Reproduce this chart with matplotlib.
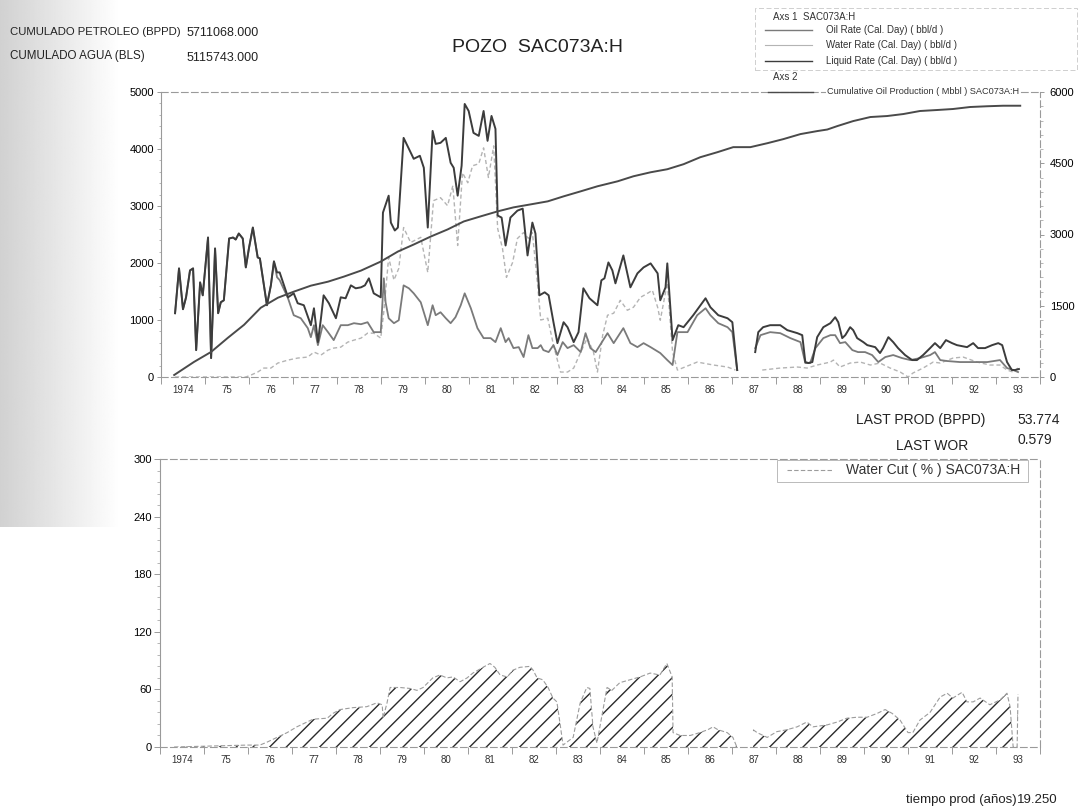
import matplotlib
matplotlib.use("Agg")
import matplotlib.pyplot as plt
import numpy as np
from matplotlib.lines import Line2D
from matplotlib.patches import Rectangle
from matplotlib.ticker import MultipleLocator, FixedLocator, NullFormatter

plt.rcParams['font.family'] = ['Liberation Sans', 'DejaVu Sans']
nan = np.nan

# --- rates (bbl/d); years as decimal ---
liq_t = [1974.32, 1974.41, 1974.50, 1974.57, 1974.66, 1974.73, 1974.80, 1974.89, 1974.95, 1975.07,
         1975.14, 1975.23, 1975.30, 1975.36, 1975.43, 1975.55, 1975.64, 1975.70, 1975.77, 1975.86,
         1975.93, 1976.00, 1976.09, 1976.20, 1976.25, 1976.41, 1976.50, 1976.57, 1976.64, 1976.70,
         1976.89, 1977.02, 1977.11, 1977.25, 1977.41, 1977.48, 1977.57, 1977.64, 1977.70, 1977.82,
         1977.98, 1978.09, 1978.20, 1978.32, 1978.43, 1978.55, 1978.64, 1978.73, 1978.84, 1979.00,
         1979.05, 1979.18, 1979.23, 1979.32, 1979.39, 1979.52, 1979.64, 1979.75, 1979.89, 1979.98,
         1980.07, 1980.18, 1980.25, 1980.36, 1980.48, 1980.59, 1980.66, 1980.75, 1980.84, 1980.91,
         1981.00, 1981.11, 1981.23, 1981.34, 1981.43, 1981.52, 1981.61, 1981.66, 1981.75, 1981.84,
         1981.95, 1982.11, 1982.23, 1982.34, 1982.45, 1982.52, 1982.61, 1982.73, 1982.82, 1982.93,
         1983.02, 1983.16, 1983.25, 1983.39, 1983.50, 1983.61, 1983.75, 1983.93, 1984.02, 1984.09,
         1984.18, 1984.27, 1984.34, 1984.52, 1984.68, 1984.84, 1984.98, 1985.14, 1985.30, 1985.36,
         1985.48, 1985.52, 1985.64, 1985.70, 1985.77, 1985.89, 1986.11, 1986.39, 1986.50, 1986.68,
         1986.89, 1987.00, 1987.11, 1987.30,
         1987.52, 1987.59, 1987.70, 1987.86, 1988.09, 1988.25, 1988.48, 1988.59, 1988.66, 1988.73,
         1988.82, 1988.93, 1989.07, 1989.23, 1989.34, 1989.41, 1989.50, 1989.57, 1989.68, 1989.75,
         1989.84, 1989.98, 1990.07, 1990.25, 1990.36, 1990.43, 1990.55, 1990.66, 1990.77, 1990.93,
         1991.09, 1991.20, 1991.34, 1991.50, 1991.61, 1991.73, 1991.86, 1992.00, 1992.11, 1992.34,
         1992.48, 1992.59, 1992.75, 1992.91, 1993.05, 1993.14, 1993.25, 1993.36, 1993.43, 1993.52]
liq_v = [1119, 1905, 1189, 1398, 1870, 1905, 472, 1660, 1433, 2447,
         332, 2255, 1119, 1311, 1346, 2430, 2447, 2412, 2517, 2430,
         1923, 2255, 2622, 2098, 2080, 1259, 1608, 2028, 1835, 1835,
         1398, 1468, 1294, 1259, 909, 1206, 612, 1031, 1433, 1294,
         1031, 1398, 1381, 1608, 1556, 1573, 1608, 1731, 1468, 1398,
         2884, 3181, 2709, 2570, 2622, 4195, 4003, 3828, 3881, 3671,
         2622, 4318, 4090, 4108, 4195, 3758, 3671, 3181, 3706, 4790,
         4667, 4283, 4230, 4667, 4143, 4580, 4353, 2832, 2797, 2307,
         2797, 2919, 2954, 2133, 2709, 2517, 1433, 1486, 1433, 961,
         594, 961, 874, 612, 787, 1556, 1381, 1259, 1696, 1731,
         2010, 1870, 1643, 2133, 1573, 1818, 1923, 1993, 1818, 1346,
         1573, 1993, 647, 769, 909, 874, 1084, 1381, 1224, 1084,
         1031, 961, 122, nan,
         437, 787, 874, 909, 909, 822, 769, 734, 262, 245,
         262, 699, 874, 944, 1049, 961, 682, 734, 874, 822,
         682, 612, 559, 524, 420, 507, 699, 612, 507, 385,
         297, 297, 385, 507, 594, 507, 647, 594, 559, 524,
         594, 507, 507, 559, 594, 559, 262, 122, 122, 140]

oil_t = [1974.32, 1974.41, 1974.50, 1974.57, 1974.66, 1974.73, 1974.80, 1974.89, 1974.95, 1975.07,
         1975.14, 1975.23, 1975.30, 1975.36, 1975.43, 1975.55, 1975.64, 1975.70, 1975.77, 1975.86,
         1975.93, 1976.00, 1976.09, 1976.20, 1976.25, 1976.41, 1976.50, 1976.57, 1976.64, 1976.70,
         1976.89, 1977.02, 1977.18, 1977.34, 1977.41, 1977.48, 1977.57, 1977.68, 1977.80, 1977.93,
         1978.09, 1978.25, 1978.39, 1978.55, 1978.70, 1978.84, 1979.00, 1979.07, 1979.11, 1979.18,
         1979.30, 1979.41, 1979.52, 1979.64, 1979.75, 1979.91, 1980.07, 1980.18, 1980.25, 1980.36,
         1980.48, 1980.59, 1980.70, 1980.82, 1980.91, 1981.05, 1981.20, 1981.34, 1981.50, 1981.61,
         1981.73, 1981.84, 1981.91, 1982.02, 1982.14, 1982.25, 1982.36, 1982.45, 1982.57, 1982.64,
         1982.70, 1982.82, 1982.93, 1983.02, 1983.14, 1983.25, 1983.39, 1983.55, 1983.66, 1983.77,
         1983.89, 1984.16, 1984.30, 1984.52, 1984.68, 1984.84, 1984.98, 1985.14, 1985.36, 1985.52,
         1985.64, 1985.75, 1985.98, 1986.20, 1986.39, 1986.50, 1986.68, 1986.89, 1987.00, 1987.11,
         1987.30,
         1987.52, 1987.64, 1987.86, 1988.09, 1988.32, 1988.55, 1988.66, 1988.77, 1988.89, 1989.07,
         1989.23, 1989.34, 1989.45, 1989.57, 1989.73, 1989.86, 1990.02, 1990.18, 1990.32, 1990.48,
         1990.66, 1990.86, 1991.05, 1991.27, 1991.50, 1991.61, 1991.73, 1991.89, 1992.18, 1992.48,
         1992.80, 1993.09, 1993.25, 1993.39, 1993.50]
oil_v = [1119, 1905, 1189, 1398, 1870, 1905, 472, 1660, 1433, 2447,
         332, 2255, 1119, 1311, 1346, 2430, 2447, 2412, 2517, 2430,
         1923, 2255, 2622, 2098, 2080, 1259, 1608, 2028, 1750, 1700,
         1381, 1084, 1031, 857, 699, 909, 559, 909, 787, 647,
         909, 909, 944, 926, 961, 787, 787, 1731, 1311, 1031,
         944, 996, 1608, 1556, 1468, 1311, 909, 1259, 1084, 1136,
         1031, 944, 1049, 1259, 1468, 1206, 857, 682, 682, 612,
         857, 612, 682, 507, 524, 350, 734, 507, 507, 559,
         472, 437, 559, 385, 612, 507, 559, 437, 769, 507,
         437, 769, 594, 857, 594, 524, 594, 524, 420, 297,
         210, 787, 787, 1084, 1206, 1084, 944, 874, 787, 122,
         nan,
         507, 734, 787, 769, 682, 612, 245, 245, 507, 682,
         734, 734, 594, 612, 472, 437, 437, 385, 262, 350,
         385, 332, 297, 332, 385, 437, 297, 280, 262, 262,
         262, 297, 157, 122, 87]

wat_t = [1974.32, 1975.93, 1976.05, 1976.20, 1976.34, 1976.50, 1976.66, 1976.89, 1977.11, 1977.34,
         1977.48, 1977.64, 1977.80, 1977.93, 1978.09, 1978.25, 1978.39, 1978.55, 1978.70, 1978.84,
         1979.00, 1979.07, 1979.18, 1979.30, 1979.41, 1979.52, 1979.68, 1979.91, 1980.07, 1980.20,
         1980.36, 1980.52, 1980.64, 1980.75, 1980.86, 1980.98, 1981.09, 1981.23, 1981.34, 1981.45,
         1981.57, 1981.66, 1981.77, 1981.86, 1982.00, 1982.11, 1982.25, 1982.36, 1982.45, 1982.57,
         1982.64, 1982.80, 1982.93, 1983.09, 1983.25, 1983.39, 1983.55, 1983.70, 1983.84, 1983.93,
         1984.05, 1984.16, 1984.30, 1984.45, 1984.61, 1984.75, 1984.91, 1985.07, 1985.18, 1985.30,
         1985.36, 1985.52, 1985.64, 1985.75, 1986.20, 1986.57, 1986.89, 1987.07, 1987.30,
         1987.68, 1988.09, 1988.48, 1988.70, 1988.93, 1989.23, 1989.30, 1989.45, 1989.68, 1989.91,
         1990.14, 1990.36, 1990.59, 1990.82, 1991.00, 1991.11, 1991.34, 1991.57, 1991.73, 1992.02,
         1992.25, 1992.57, 1992.86, 1993.09, 1993.25, 1993.39, 1993.50]
wat_v = [0, 0, 35, 87, 157, 157, 245, 297, 332, 350,
         437, 385, 472, 507, 524, 612, 647, 682, 769, 769,
         682, 1150, 2100, 1700, 1905, 2622, 2360, 2450, 1835, 3094,
         3146, 3006, 3356, 2307, 3583, 3408, 3706, 3741, 4020, 3500,
         4055, 2604, 2255, 1748, 2010, 2430, 2535, 2430, 2535, 1608,
         1000, 1031, 559, 87, 87, 157, 437, 682, 437, 87,
         734, 1084, 1119, 1346, 1171, 1224, 1398, 1468, 1521, 1224,
         996, 1650, 437, 122, 262, 210, 175, 122, nan,
         122, 157, 175, 157, 210, 262, 297, 175, 245, 262,
         210, 245, 157, 87, 0, 70, 157, 262, 245, 332,
         350, 262, 210, 210, 122, 87, 157]

# --- cumulative oil (Mbbl), right axis ---
cum_t = [1974.30, 1974.75, 1975.14, 1975.52, 1975.89, 1976.27, 1976.66, 1977.02, 1977.41, 1977.80,
         1978.16, 1978.55, 1979.00, 1979.39, 1979.75, 1980.14, 1980.52, 1980.89, 1981.27, 1981.66,
         1982.02, 1982.41, 1982.80, 1983.16, 1983.55, 1983.93, 1984.39, 1984.75, 1985.14, 1985.52,
         1985.89, 1986.27, 1986.66, 1987.02, 1987.41, 1987.80, 1988.16, 1988.55, 1988.93, 1989.16,
         1989.39, 1989.75, 1990.14, 1990.52, 1990.89, 1991.27, 1991.66, 1992.02, 1992.41, 1992.80,
         1993.16, 1993.55]
cum_v = [42, 317, 528, 824, 1099, 1458, 1669, 1796, 1923, 2007,
         2113, 2240, 2430, 2641, 2789, 2958, 3106, 3275, 3381, 3487,
         3571, 3634, 3698, 3803, 3909, 4015, 4120, 4226, 4310, 4374,
         4480, 4627, 4733, 4839, 4839, 4923, 5008, 5114, 5177, 5210,
         5283, 5388, 5473, 5494, 5536, 5600, 5621, 5642, 5684, 5700,
         5711, 5711]

# --- water cut (%) ---
wc_t = [1974.32, 1975.98, 1976.27, 1976.43, 1976.66, 1976.89, 1977.11, 1977.34, 1977.48, 1977.80,
        1977.93, 1978.09, 1978.39, 1978.70, 1978.93, 1979.05, 1979.07, 1979.16, 1979.23, 1979.45,
        1979.68, 1979.84, 1979.98, 1980.20, 1980.36, 1980.52, 1980.66, 1980.82, 1980.98, 1981.11,
        1981.34, 1981.50, 1981.61, 1981.73, 1981.89, 1982.02, 1982.18, 1982.41, 1982.48, 1982.57,
        1982.70, 1982.82, 1982.93, 1983.02, 1983.09, 1983.16, 1983.39, 1983.55, 1983.70, 1983.77,
        1983.84, 1983.93, 1984.16, 1984.27, 1984.45, 1984.68, 1984.91, 1985.14, 1985.36, 1985.52,
        1985.64, 1985.66, 1985.82, 1986.05, 1986.27, 1986.45, 1986.57, 1986.68, 1986.89, 1987.02,
        1987.11, 1987.30,
        1987.48, 1987.57, 1987.80, 1988.02, 1988.25, 1988.48, 1988.70, 1988.84, 1989.16, 1989.39,
        1989.61, 1989.84, 1990.07, 1990.30, 1990.48, 1990.64, 1990.82, 1991.00, 1991.11, 1991.27,
        1991.50, 1991.73, 1991.89, 1992.02, 1992.23, 1992.34, 1992.48, 1992.64, 1992.86, 1993.09,
        1993.25, 1993.32, 1993.39, 1993.48, 1993.50]
wc_v = [0, 2, 2, 5, 10, 15, 21, 26, 29, 30,
        35, 39, 41, 42, 46, 44, 30, 46, 62, 62,
        61, 59, 62, 72, 75, 72, 73, 68, 72, 77,
        83, 87, 83, 75, 73, 80, 83, 84, 80, 72,
        70, 62, 51, 47, 25, 2, 10, 46, 62, 61,
        21, 4, 62, 59, 67, 70, 73, 77, 75, 87,
        73, 15, 12, 12, 15, 18, 21, 18, 15, 10,
        0, nan,
        18, 15, 10, 16, 18, 21, 26, 21, 23, 26,
        30, 31, 31, 35, 39, 35, 28, 15, 15, 28,
        36, 52, 56, 51, 57, 47, 47, 51, 44, 49,
        56, 42, 0, 0, 55]

year_labels = ['1974'] + ['%02d' % (y % 100) for y in range(1975, 1994)]

W, H = 1082, 809
fig = plt.figure(figsize=(W / 100, H / 100), dpi=100)


def fx(x):
    return x / W


def fy(y):
    return 1 - y / H


# scanner shadow on the left edge
sh = fig.add_axes([0, fy(527), fx(120), 527 / H], zorder=-5)
grad = np.tile(np.linspace(0.82, 1.0, 200), (10, 1))
sh.imshow(grad, cmap='gray', vmin=0, vmax=1, aspect='auto', extent=[0, 1, 0, 1])
sh.axis('off')

frame_col = '#9a9a9a'


def style_years(ax):
    ax.set_xlim(1974, 1994)
    ax.xaxis.set_major_locator(MultipleLocator(1))
    ax.xaxis.set_major_formatter(NullFormatter())
    ax.xaxis.set_minor_locator(FixedLocator(np.arange(1974.5, 1994, 1)))
    ax.set_xticklabels(year_labels, minor=True)
    ax.tick_params(axis='x', which='major', length=5, width=0.7, color=frame_col)
    ax.tick_params(axis='x', which='minor', length=0, pad=6, labelsize=7, labelcolor='#333')
    for s in ['top', 'bottom', 'right']:
        ax.spines[s].set_linestyle((0, (6, 3)))
    for s in ax.spines.values():
        s.set_color(frame_col)
        s.set_linewidth(0.8)


# ---------------- top chart ----------------
ax1 = fig.add_axes([fx(161), fy(377), fx(1040 - 161), (377 - 92) / H])
ax1.plot(wat_t, wat_v, color='#b4b4b4', lw=1.0, ls=(0, (3, 2)))
ax1.plot(oil_t, oil_v, color='#7a7a7a', lw=1.3)
ax1.plot(liq_t, liq_v, color='#3c3c3c', lw=1.4)
ax1.set_ylim(0, 5000)
ax1.yaxis.set_major_locator(MultipleLocator(1000))
ax1.yaxis.set_minor_locator(MultipleLocator(200))
ax1.tick_params(axis='y', which='major', length=3, width=0.7, color=frame_col, labelsize=8, pad=2)
ax1.tick_params(axis='y', which='minor', length=1.5, width=0.5, color=frame_col)
style_years(ax1)

ax1r = ax1.twinx()
ax1r.plot(cum_t, cum_v, color='#4a4a4a', lw=1.4)
ax1r.set_ylim(0, 6000)
ax1r.yaxis.set_major_locator(MultipleLocator(1500))
ax1r.yaxis.set_minor_locator(MultipleLocator(300))
ax1r.tick_params(axis='y', which='major', length=3, width=0.7, color=frame_col, labelsize=8, pad=4)
ax1r.tick_params(axis='y', which='minor', length=2, width=0.5, color=frame_col)
for s in ax1r.spines.values():
    s.set_visible(False)

# ---------------- bottom chart ----------------
ax2 = fig.add_axes([fx(160), fy(747), fx(1040 - 160), (747 - 459) / H])
ax2.fill_between(wc_t, wc_v, 0, facecolor='none', edgecolor='#2a2a2a', hatch='//', linewidth=0)
ax2.plot(wc_t, wc_v, color='#9c9c9c', lw=0.8, ls=(0, (4, 2)))
ax2.set_ylim(0, 300)
ax2.yaxis.set_major_locator(MultipleLocator(60))
ax2.yaxis.set_minor_locator(MultipleLocator(12))
ax2.tick_params(axis='y', which='major', length=4, width=0.7, color=frame_col, labelsize=8, pad=2)
ax2.tick_params(axis='y', which='minor', length=2, width=0.5, color=frame_col)
style_years(ax2)

# ---------------- texts ----------------
tc = '#222'
fig.text(fx(10), fy(32), 'CUMULADO PETROLEO (BPPD)', fontsize=8.2, color=tc, va='center')
fig.text(fx(187), fy(33), '5711068.000', fontsize=9, color=tc, va='center')
fig.text(fx(10), fy(56), 'CUMULADO AGUA (BLS)', fontsize=8.4, color=tc, va='center')
fig.text(fx(187), fy(58), '5115743.000', fontsize=9, color=tc, va='center')
fig.text(fx(538), fy(47), 'POZO  SAC073A:H', fontsize=14, color=tc, ha='center', va='center')

fig.text(fx(985), fy(420), 'LAST PROD (BPPD)', fontsize=10, color=tc, ha='right', va='center')
fig.text(fx(1017), fy(420), '53.774', fontsize=10, color=tc, va='center')
fig.text(fx(968), fy(446), 'LAST WOR', fontsize=10, color=tc, ha='right', va='center')
fig.text(fx(1017), fy(440), '0.579', fontsize=10, color=tc, va='center')
fig.text(fx(1017), fy(800), 'tiempo prod (años)', fontsize=9.5, color=tc, ha='right', va='center')
fig.text(fx(1017), fy(800), '19.250', fontsize=9.5, color=tc, ha='left', va='center')

# ---------------- legend, top ----------------
fig.patches.append(Rectangle((fx(755), fy(70)), fx(1077 - 755), (70 - 8) / H, transform=fig.transFigure,
                             fill=False, edgecolor='#c8c8c8', lw=0.6, ls=(0, (6, 3))))
lg = 7
fig.text(fx(773), fy(17), 'Axs 1  SAC073A:H', fontsize=lg, color='#333', va='center')
leg_rows = [(30, 'Oil Rate (Cal. Day) ( bbl/d )', '#7a7a7a', 1.0),
            (45, 'Water Rate (Cal. Day) ( bbl/d )', '#b4b4b4', 0.8),
            (61, 'Liquid Rate (Cal. Day) ( bbl/d )', '#3c3c3c', 1.0)]
for yy, lab, col, lw in leg_rows:
    fig.lines.append(Line2D([fx(765), fx(812)], [fy(yy), fy(yy)], transform=fig.transFigure,
                            color=col, lw=lw))
    fig.text(fx(826), fy(yy), lab, fontsize=lg, color='#333', va='center')
fig.text(fx(773), fy(77), 'Axs 2', fontsize=lg, color='#333', va='center')
fig.lines.append(Line2D([fx(768), fx(813)], [fy(92), fy(92)], transform=fig.transFigure,
                        color='#4a4a4a', lw=1.0))
fig.text(fx(827), fy(91), 'Cumulative Oil Production ( Mbbl ) SAC073A:H', fontsize=6.6, color='#333',
         va='center', bbox=dict(facecolor='white', edgecolor='none', pad=0.5))

# ---------------- legend, bottom ----------------
fig.patches.append(Rectangle((fx(777), fy(482)), fx(1028 - 777), (482 - 460) / H, transform=fig.transFigure,
                             facecolor='white', edgecolor='#b0b0b0', lw=0.6, zorder=3))
fig.lines.append(Line2D([fx(787), fx(833)], [fy(470), fy(470)], transform=fig.transFigure,
                        color='#9c9c9c', lw=0.8, ls=(0, (4, 2)), zorder=4))
fig.text(fx(846), fy(470), 'Water Cut ( % ) SAC073A:H', fontsize=10, color='#333', va='center', zorder=4)

fig.savefig('out.png', dpi=100)
